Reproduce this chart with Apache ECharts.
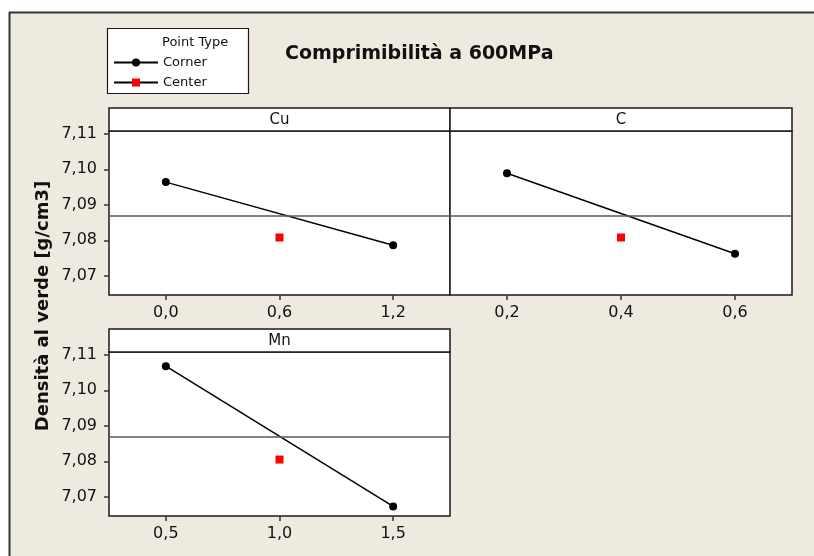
<!DOCTYPE html>
<html>
<head>
<meta charset="utf-8">
<script src="https://cdn.jsdelivr.net/npm/echarts@6/dist/echarts.min.js"></script>
<style>
html,body{margin:0;padding:0;background:#ffffff;}
#chart{width:814px;height:556px;}
</style>
</head>
<body>
<div id="chart"></div>
<script>
// ---- data ----
const panelNames = ['Cu', 'C', 'Mn'];
const cuLevels = [0.0, 1.2];
const cuCorner = [7.0964, 7.0786];
const cuCenterLevel = [0.6];
const cuCenter = [7.0808];
const cLevels = [0.2, 0.6];
const cCorner = [7.0989, 7.0762];
const cCenterLevel = [0.4];
const cCenter = [7.0808];
const mnLevels = [0.5, 1.5];
const mnCorner = [7.1068, 7.0673];
const mnCenterLevel = [1.0];
const mnCenter = [7.0805];
const grandMean = 7.0869;
const yTicks = [7.07, 7.08, 7.09, 7.10, 7.11];
const cuTicks = [0.0, 0.6, 1.2];
const cTicks = [0.2, 0.4, 0.6];
const mnTicks = [0.5, 1.0, 1.5];
const yTitle = 'Densità al verde [g/cm3]';
const chartTitle = 'Comprimibilità a 600MPa';

const FONT = 'DejaVu Sans';
const pairs = (xs, ys) => xs.map((x, i) => [x, ys[i]]);
const fmt = v => v.toFixed(v >= 7 ? 2 : 1).replace('.', ',');

const grids = [
  {left: 109, top: 131, width: 341, height: 164},
  {left: 450, top: 131, width: 342, height: 164},
  {left: 109, top: 352, width: 341, height: 164}
].map(g => Object.assign(g, {show: true, backgroundColor: '#ffffff', borderColor: '#1a1a1a', borderWidth: 1.5}));

function xAxis(idx, min, max, ticks) {
  return {
    type: 'value', gridIndex: idx, min: min, max: max, position: 'bottom',
    axisLine: {show: false, onZero: false}, splitLine: {show: false},
    axisTick: {show: true, length: 5, customValues: ticks, lineStyle: {color: '#333', width: 1.5}},
    axisLabel: {customValues: ticks, formatter: v => fmt(v), margin: 10,
      fontFamily: FONT, fontSize: 16, color: '#111'}
  };
}
function yAxis(idx, showLabels) {
  return {
    type: 'value', gridIndex: idx, min: 7.0646, max: 7.1108, position: 'left',
    axisLine: {show: false, onZero: false}, splitLine: {show: false},
    axisTick: {show: showLabels, length: 5, customValues: yTicks, lineStyle: {color: '#333', width: 1.5}},
    axisLabel: {show: showLabels, customValues: yTicks, formatter: v => fmt(v), margin: 12,
      fontFamily: FONT, fontSize: 16, color: '#111'}
  };
}

function cornerSeries(idx, xs, ys) {
  return {
    name: 'Corner', type: 'line', xAxisIndex: idx, yAxisIndex: idx,
    data: pairs(xs, ys), symbol: 'circle', symbolSize: 8,
    lineStyle: {color: '#000', width: 1.5}, itemStyle: {color: '#000'},
    silent: true, animation: false, z: 3,
    markLine: {silent: true, symbol: 'none', precision: 5, label: {show: false},
      lineStyle: {color: '#5a5a5a', width: 1.5, type: 'solid'},
      data: [{yAxis: grandMean}], animation: false}
  };
}
function centerSeries(idx, xs, ys) {
  return {
    name: 'Center', type: 'line', xAxisIndex: idx, yAxisIndex: idx,
    data: pairs(xs, ys), symbol: 'rect', symbolSize: 8,
    lineStyle: {color: '#000', width: 1.5}, itemStyle: {color: '#ff0000'},
    silent: true, animation: false, z: 4
  };
}

const strips = [
  {x: 109, y: 108, w: 341, name: panelNames[0]},
  {x: 450, y: 108, w: 342, name: panelNames[1]},
  {x: 109, y: 329, w: 341, name: panelNames[2]}
];
const graphics = [
  {type: 'rect', z: -100, shape: {x: 9, y: 12, width: 900, height: 600}, style: {fill: '#eeeae0', stroke: null, lineWidth: 0}},
  {type: 'line', z: -99, shape: {x1: 9.5, y1: 12, x2: 9.5, y2: 556}, style: {stroke: '#333', lineWidth: 2}},
  {type: 'line', z: -99, shape: {x1: 9, y1: 12.5, x2: 814, y2: 12.5}, style: {stroke: '#333', lineWidth: 2}},
  // legend box
  {type: 'rect', shape: {x: 107.5, y: 28.5, width: 141, height: 65}, style: {fill: '#ffffff', stroke: '#1a1a1a', lineWidth: 1.2}},
  {type: 'text', x: 162, y: 43, style: {text: 'Point Type', font: '13px "DejaVu Sans"', fill: '#111', textVerticalAlign: 'middle'}},
  // y axis title
  {type: 'text', x: 43, y: 306, rotation: Math.PI / 2,
    style: {text: yTitle, font: 'bold 18px "DejaVu Sans"', fill: '#111', textAlign: 'center', textVerticalAlign: 'middle'}}
];
strips.forEach(s => {
  graphics.push({type: 'rect', shape: {x: s.x, y: s.y, width: s.w, height: 23},
    style: {fill: '#ffffff', stroke: '#1a1a1a', lineWidth: 1.5}});
  graphics.push({type: 'text', x: s.x + s.w / 2, y: s.y + 12.5,
    style: {text: s.name, font: '15px "DejaVu Sans"', fill: '#111', textAlign: 'center', textVerticalAlign: 'middle'}});
});

const chart = echarts.init(document.getElementById('chart'), null, {renderer: 'canvas'});
chart.setOption({
  animation: false,
  backgroundColor: 'transparent',
  title: {text: chartTitle, left: 280, top: 40,
    textStyle: {fontFamily: FONT, fontSize: 19, fontWeight: 'bold', color: '#111'}},
  legend: {
    data: ['Corner', 'Center'], orient: 'vertical', left: 113, top: 56,
    itemWidth: 44, itemHeight: 10, itemGap: 7, padding: 0,
    textStyle: {fontFamily: FONT, fontSize: 13, color: '#111'},
    selectedMode: false
  },
  graphic: {elements: graphics},
  grid: grids,
  xAxis: [xAxis(0, -0.3, 1.5, cuTicks), xAxis(1, 0.1, 0.7, cTicks), xAxis(2, 0.25, 1.75, mnTicks)],
  yAxis: [yAxis(0, true), yAxis(1, false), yAxis(2, true)],
  series: [
    cornerSeries(0, cuLevels, cuCorner), centerSeries(0, cuCenterLevel, cuCenter),
    cornerSeries(1, cLevels, cCorner), centerSeries(1, cCenterLevel, cCenter),
    cornerSeries(2, mnLevels, mnCorner), centerSeries(2, mnCenterLevel, mnCenter)
  ]
});
</script>
</body>
</html>
